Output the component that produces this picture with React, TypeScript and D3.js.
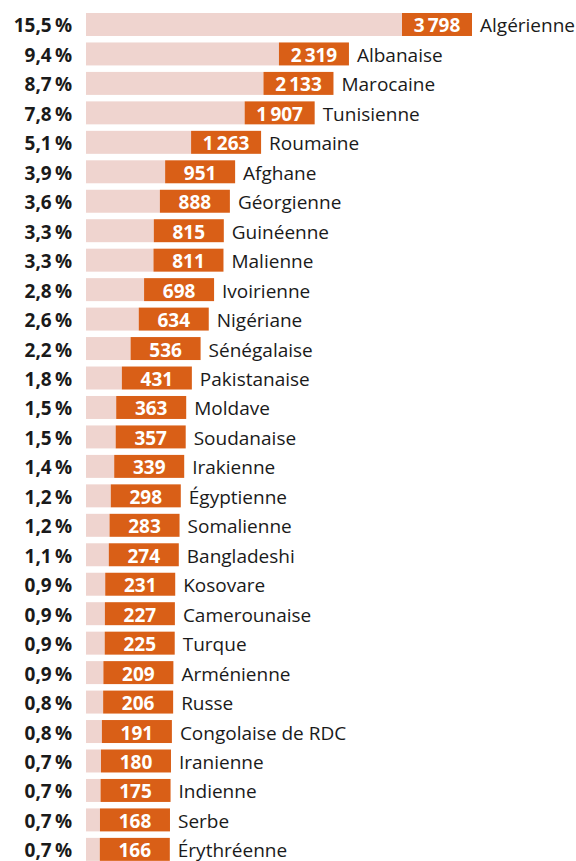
import React from "react";
import * as d3 from "d3";

const nationalities = [
  "Algérienne", "Albanaise", "Marocaine", "Tunisienne", "Roumaine", "Afghane",
  "Géorgienne", "Guinéenne", "Malienne", "Ivoirienne", "Nigériane", "Sénégalaise",
  "Pakistanaise", "Moldave", "Soudanaise", "Irakienne", "Égyptienne", "Somalienne",
  "Bangladeshi", "Kosovare", "Camerounaise", "Turque", "Arménienne", "Russe",
  "Congolaise de RDC", "Iranienne", "Indienne", "Serbe", "Érythréenne",
];
const counts = [
  3798, 2319, 2133, 1907, 1263, 951, 888, 815, 811, 698, 634, 536, 431, 363, 357,
  339, 298, 283, 274, 231, 227, 225, 209, 206, 191, 180, 175, 168, 166,
];
const shares = [
  "15,5", "9,4", "8,7", "7,8", "5,1", "3,9", "3,6", "3,3", "3,3", "2,8", "2,6",
  "2,2", "1,8", "1,5", "1,5", "1,4", "1,2", "1,2", "1,1", "0,9", "0,9", "0,9",
  "0,9", "0,8", "0,8", "0,7", "0,7", "0,7", "0,7",
];

const W = 576;
const H = 861;
const X0 = 86;
const BOX = 70;
const PINK = "#efd4cf";
const ORANGE = "#d95f17";
const FONT = "'Open Sans', 'Noto Sans', sans-serif";

const fmt = (v: number) => {
  const s = String(v);
  return s.length > 3 ? s.slice(0, s.length - 3) + "\u2009" + s.slice(s.length - 3) : s;
};

export default function App() {
  const x = d3.scaleLinear().domain([0, 3798]).range([0, 316]);
  const y = d3
    .scaleBand<string>()
    .domain(nationalities)
    .range([9.76, 9.76 + 29 * 29.46])
    .paddingInner(0.22)
    .paddingOuter(0.11);
  const bw = y.bandwidth();

  return (
    <svg
      width={W}
      height={H}
      style={{ position: "absolute", left: 0, top: 0, background: "#fff" }}
      fontFamily={FONT}
    >
      {nationalities.map((n, i) => {
        const top = y(n) as number;
        const cy = top + bw / 2;
        const w = x(counts[i]);
        return (
          <g key={n}>
            <rect x={X0} y={top} width={w} height={bw} fill={PINK} />
            <rect x={X0 + w} y={top} width={BOX} height={bw} fill={ORANGE} />
            <text
              x={X0 + w + BOX / 2}
              y={cy}
              dy="0.42em"
              textAnchor="middle"
              fill="#fff"
              fontWeight={700}
              fontSize={19}
            >
              {fmt(counts[i])}
            </text>
            <text
              x={X0 + w + BOX + 8}
              y={cy}
              dy="0.42em"
              fill="#1a1a1a"
              fontSize={19}
            >
              {n}
            </text>
            <text
              x={72}
              y={cy}
              dy="0.42em"
              textAnchor="end"
              fill="#1a1a1a"
              fontWeight={700}
              fontSize={19}
            >
              {shares[i] + "\u2009%"}
            </text>
          </g>
        );
      })}
    </svg>
  );
}
